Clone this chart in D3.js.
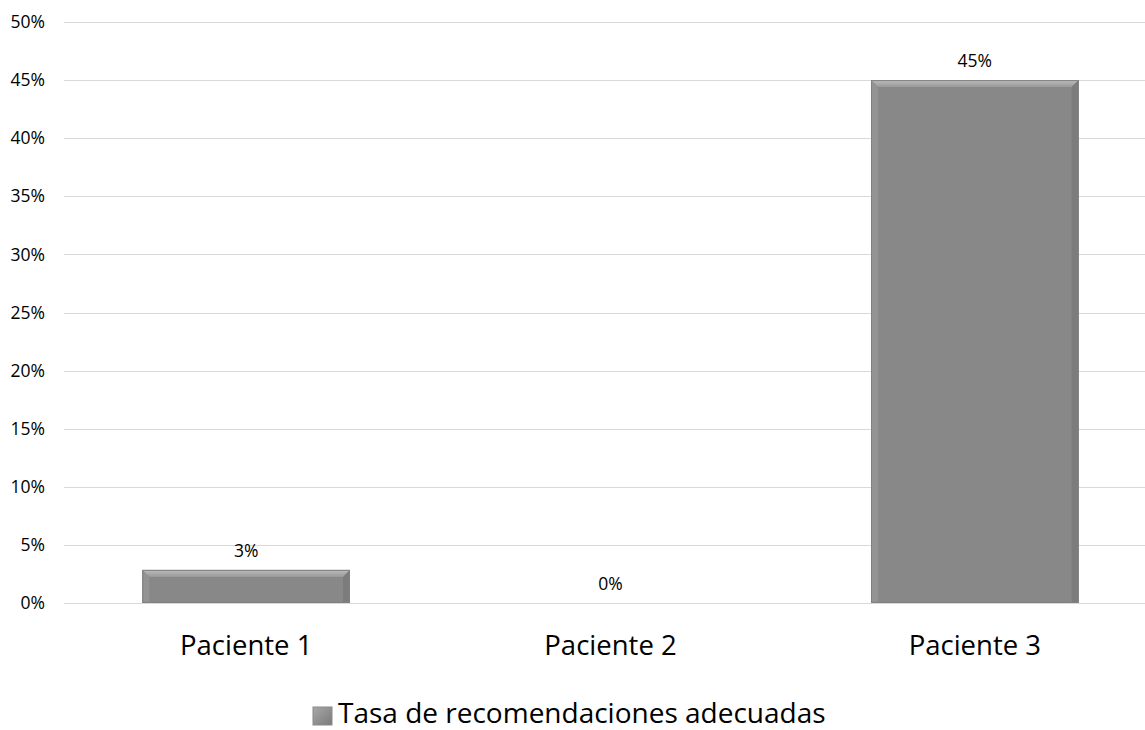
<!DOCTYPE html>
<html><head><meta charset="utf-8">
<script src="https://cdn.jsdelivr.net/npm/d3@7"></script>
<style>body{margin:0;background:#fff}svg{display:block}text{font-family:"Open Sans","Noto Sans",sans-serif;fill:#000}</style>
</head><body>
<svg id="c" width="1145" height="730"></svg>
<script>
const categories = ["Paciente 1", "Paciente 2", "Paciente 3"];
const values = [0.0285, 0, 0.45];
const yTicks = [0, 0.05, 0.10, 0.15, 0.20, 0.25, 0.30, 0.35, 0.40, 0.45, 0.50];
const seriesName = "Tasa de recomendaciones adecuadas";

const svg = d3.select("#c");
const x = d3.scaleBand().domain(categories).range([64, 1157]).paddingInner(0.43).paddingOuter(0.215);
const y = d3.scaleLinear().domain([0, 0.5]).range([603, 22]);
const fmt = d3.format(".0%");
const FF = "'Open Sans','Noto Sans',sans-serif";

// gridlines
svg.append("g").selectAll("line").data(yTicks).join("line")
  .attr("x1", 64).attr("x2", 1145)
  .attr("y1", d => Math.round(y(d)) + 0.5).attr("y2", d => Math.round(y(d)) + 0.5)
  .attr("stroke", "#d9d9d9").attr("stroke-width", 1);

// y axis labels
const ya = svg.append("g").attr("transform", "translate(45,0)")
  .call(d3.axisLeft(y).tickValues(yTicks).tickFormat(fmt).tickSize(0).tickPadding(0));
ya.select(".domain").remove();
ya.selectAll("text").attr("font-size", 17.5).attr("font-family", FF).attr("fill", "#000");

// x axis labels
const xa = svg.append("g").attr("transform", "translate(0,655)")
  .call(d3.axisBottom(x).tickSize(0).tickPadding(0));
xa.select(".domain").remove();
xa.selectAll("text").attr("dy", 0).attr("font-size", 27.5).attr("font-family", FF).attr("fill", "#000");

// defs for bevel gradient
const defs = svg.append("defs");
const g1 = defs.append("linearGradient").attr("id", "topBev").attr("x1", 0).attr("y1", 0).attr("x2", 0).attr("y2", 1);
g1.append("stop").attr("offset", 0).attr("stop-color", "#bdbdbd");
g1.append("stop").attr("offset", 1).attr("stop-color", "#999999");
const g2 = defs.append("linearGradient").attr("id", "leg").attr("x1", 0).attr("y1", 0).attr("x2", 1).attr("y2", 1);
g2.append("stop").attr("offset", 0).attr("stop-color", "#a8a8a8");
g2.append("stop").attr("offset", 1).attr("stop-color", "#7a7a7a");

const bev = 7;
const bars = svg.append("g").selectAll("g").data(categories.map((c, i) => ({c, v: values[i]}))).join("g");
bars.each(function(d) {
  if (d.v <= 0) return;
  const g = d3.select(this);
  const x0 = x(d.c), x1 = x(d.c) + x.bandwidth();
  const y0 = y(d.v), y1 = y(0);
  const b = Math.min(bev, (y1 - y0) / 2);
  g.append("rect").attr("x", x0).attr("y", y0).attr("width", x1 - x0).attr("height", y1 - y0).attr("fill", "#888888");
  g.append("path").attr("d", `M${x0},${y0}L${x1},${y0}L${x1 - b},${y0 + b}L${x0 + b},${y0 + b}Z`).attr("fill", "url(#topBev)");
  g.append("path").attr("d", `M${x0},${y0}L${x0 + b},${y0 + b}L${x0 + b},${y1}L${x0},${y1}Z`).attr("fill", "#939393");
  g.append("path").attr("d", `M${x1},${y0}L${x1 - b},${y0 + b}L${x1 - b},${y1}L${x1},${y1}Z`).attr("fill", "#7c7c7c");
  g.append("rect").attr("x", x0 + 0.5).attr("y", y0 + 0.5).attr("width", x1 - x0 - 1).attr("height", y1 - y0 - 1)
    .attr("fill", "none").attr("stroke", "#808080").attr("stroke-width", 1);
});

// data labels
svg.append("g").selectAll("text").data(categories.map((c, i) => ({c, v: values[i]}))).join("text")
  .attr("x", d => x(d.c) + x.bandwidth() / 2)
  .attr("y", d => y(d.v) - 13)
  .attr("text-anchor", "middle").attr("font-size", 17.5)
  .text(d => fmt(d.v));

// legend
const lg = svg.append("g");
lg.append("rect").attr("x", 313).attr("y", 707).attr("width", 19).attr("height", 18).attr("fill", "url(#leg)").attr("stroke", "#8a8a8a");
lg.append("text").attr("x", 338).attr("y", 722.5).attr("font-size", 28).text(seriesName);
</script>
</body></html>
